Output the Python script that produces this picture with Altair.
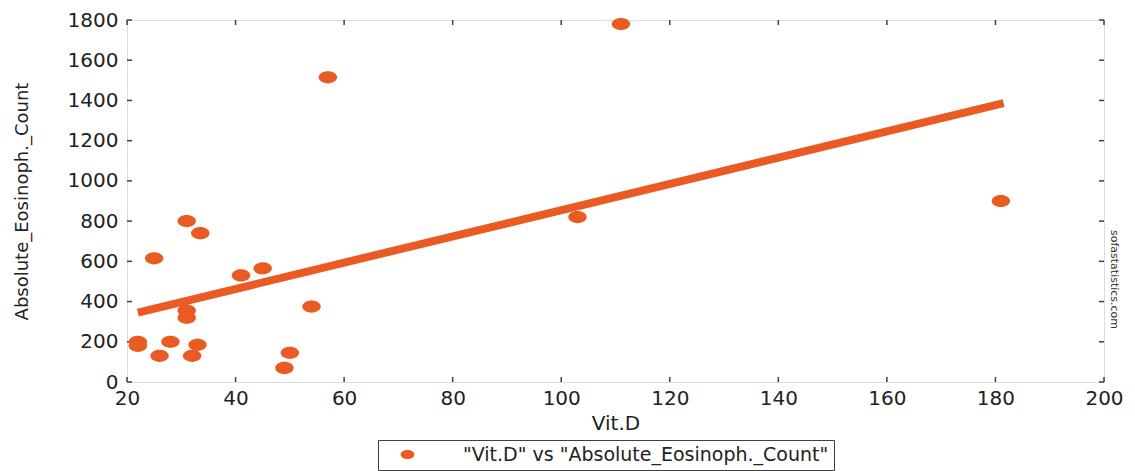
import altair as alt
import pandas as pd

# ---- data ----
vit_d = [22, 22, 25, 26, 28, 31, 31, 31, 32, 33, 33.5, 41, 45, 49, 50, 54, 57, 103, 111, 181]
eosinoph = [200, 180, 615, 130, 200, 800, 355, 320, 130, 185, 740, 530, 565, 70, 145, 375, 1515, 820, 1780, 900]
series_label = '"Vit.D" vs "Absolute_Eosinoph._Count"'
fit_x = [22, 181.5]
fit_y = [345, 1387]
x_ticks = [20, 40, 60, 80, 100, 120, 140, 160, 180, 200]
y_ticks = [0, 200, 400, 600, 800, 1000, 1200, 1400, 1600, 1800]

ORANGE = "#e95b22"
FRAME = "#3f3f3f"
TEXT = "#222222"
FONT = "DejaVu Sans"
ELLIPSE = "M-1,0A1,0.66,0,1,0,1,0A1,0.66,0,1,0,-1,0Z"
W, H = 977, 362
TICK = 5

pts = pd.DataFrame({"vit": vit_d, "eos": eosinoph, "series": [series_label] * len(vit_d)})
fit = pd.DataFrame({"vit": fit_x, "eos": fit_y})
xt = pd.DataFrame({"v": x_ticks})
yt = pd.DataFrame({"v": y_ticks})

x_scale = alt.Scale(domain=[20, 200], nice=False, zero=False)
y_scale = alt.Scale(domain=[0, 1800], nice=False, zero=False)

points = alt.Chart(pts).mark_point(
    shape=ELLIPSE, filled=True, size=340, opacity=1, strokeWidth=0
).encode(
    x=alt.X("vit:Q", scale=x_scale,
            axis=alt.Axis(orient="bottom", values=x_ticks, ticks=False, domain=False, grid=False,
                          labelFlush=False, labelOverlap=False,
                          labelPadding=6, title="Vit.D",
                          labelFontSize=20, titleFontSize=20, titlePadding=5,
                          labelColor=TEXT, titleColor=TEXT, labelFont=FONT, titleFont=FONT,
                          titleFontWeight="normal")),
    y=alt.Y("eos:Q", scale=y_scale,
            axis=alt.Axis(orient="left", values=y_ticks, format="d", ticks=False, domain=False, grid=False,
                          labelFlush=False, labelOverlap=False,
                          labelPadding=9, title="Absolute_Eosinoph._Count",
                          labelFontSize=20, titleFontSize=18,
                          titleX=-105, titleY=H / 2, titleAlign="center", titleBaseline="middle",
                          labelColor=TEXT, titleColor=TEXT, labelFont=FONT, titleFont=FONT,
                          titleFontWeight="normal")),
    color=alt.Color("series:N", scale=alt.Scale(range=[ORANGE]),
                    legend=alt.Legend(title=None, orient="none", legendX=251, legendY=420,
                                      direction="horizontal",
                                      symbolType=ELLIPSE, symbolSize=190, symbolStrokeWidth=0,
                                      symbolOffset=15, labelOffset=46,
                                      labelFontSize=19, labelFont=FONT, labelColor=TEXT,
                                      strokeColor=FRAME, padding=5,
                                      labelLimit=800)),
)

line = alt.Chart(fit).mark_line(color=ORANGE, strokeWidth=8, strokeCap="butt").encode(
    x=alt.X("vit:Q", scale=x_scale, axis=None),
    y=alt.Y("eos:Q", scale=y_scale,
            axis=alt.Axis(orient="right", ticks=False, labels=False, domain=False, grid=False,
                          title="sofastatistics.com",
                          titleFontSize=11, titleFont=FONT, titleFontWeight="normal",
                          titleColor="#333", titleAngle=90, titleX=9, titleY=259,
                          titleAlign="center", titleBaseline="middle")),
)

tick_style = dict(color=FRAME, strokeWidth=1.5)
bottom_ticks = alt.Chart(xt).mark_rule(**tick_style).encode(
    x=alt.X("v:Q", scale=x_scale, axis=None), y=alt.value(H), y2=alt.value(H - TICK))
top_ticks = alt.Chart(xt).mark_rule(**tick_style).encode(
    x=alt.X("v:Q", scale=x_scale, axis=None), y=alt.value(0), y2=alt.value(TICK))
left_ticks = alt.Chart(yt).mark_rule(**tick_style).encode(
    y=alt.Y("v:Q", scale=y_scale, axis=None), x=alt.value(0), x2=alt.value(TICK))
right_ticks = alt.Chart(yt).mark_rule(**tick_style).encode(
    y=alt.Y("v:Q", scale=y_scale, axis=None), x=alt.value(W), x2=alt.value(W - TICK))

chart = alt.layer(
    bottom_ticks, top_ticks, left_ticks, right_ticks, line, points
).resolve_axis(x="independent", y="independent").properties(
    width=W, height=H,
    autosize=alt.AutoSizeParams(type="none"),
    padding={"left": 119, "top": 12, "right": 23, "bottom": 89},
).configure_view(
    fill="#f1f0ef", stroke=FRAME, strokeWidth=1.5
).configure(background="white")

chart.save("out.html", embed_options={"renderer": "svg", "actions": False})
